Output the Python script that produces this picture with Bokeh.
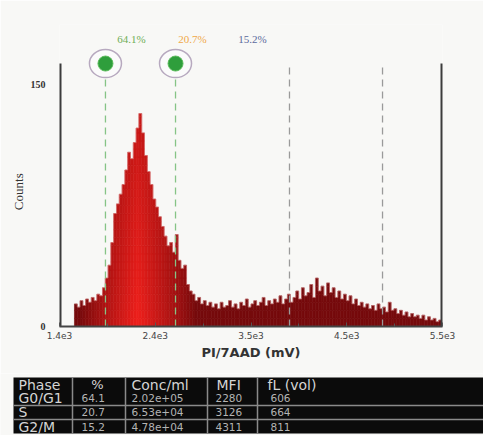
import numpy as np
from bokeh.plotting import figure
from bokeh.layouts import column
from bokeh.models import Range1d, FixedTicker, ColumnDataSource
from bokeh.core.properties import value
from bokeh.embed import file_html
from bokeh.resources import INLINE

# ---------------- data ----------------
BIN_START = 1560
BIN_WIDTH = 30
counts = [14, 12, 16, 13, 17, 15, 18, 16, 20, 19,
          24, 30, 38, 52, 70, 76, 82, 88, 97, 108,
          104, 114, 123, 132, 120, 106, 96, 88, 79, 74,
          68, 62, 56, 50, 52, 46, 57, 41, 36, 38,
          26, 22, 20, 16, 18, 14, 16, 13, 15, 12,
          14, 11, 15, 12, 13, 16, 12, 14, 11, 15,
          13, 17, 12, 14, 16, 13, 15, 18, 13, 16,
          14, 17, 15, 19, 14, 17, 20, 15, 18, 22,
          17, 24, 19, 21, 26, 18, 30, 22, 25, 19,
          27, 21, 24, 18, 22, 17, 20, 16, 19, 14,
          17, 13, 15, 12, 14, 11, 13, 10, 14, 11,
          12, 9, 15, 10, 11, 8, 10, 7, 9, 6,
          8, 6, 7, 5, 7, 4, 6, 4, 5, 3, 4]

X_START, X_END = 1400, 5500
x_ticks = [1400, 2425, 3450, 4475, 5500]
x_tick_labels = ["1.4e3", "2.4e3", "3.5e3", "4.5e3", "5.5e3"]
x_minor_ticks = [1912.5, 2937.5, 3962.5, 4987.5]
y_ticks = [0, 150]
y_tick_labels = ["0", "150"]
Y_AXIS_TOP = 163
Y_END = 187.2

gate_markers = [1892, 2642]
gate_lines = [3862, 4858]
phase_pct_labels = ["64.1%", "20.7%", "15.2%"]
phase_pct_colors = ["#6fae55", "#f0a848", "#5a6a9c"]

table_header = ["Phase", "%", "Conc/ml", "MFI", "fL (vol)"]
phases = ["G0/G1", "S", "G2/M"]
pct = ["64.1", "20.7", "15.2"]
conc = ["2.02e+05", "6.53e+04", "4.78e+04"]
mfi = ["2280", "3126", "4311"]
fl = ["606", "664", "811"]

# ---------------- layout / style ----------------
BG = "#f8f8f6"
PCT_LABEL_X = [2171, 2824, 3466]
PCT_LABEL_Y = 178
SEG = 5


def red_shade(x, y):
    h = np.clip(1 - abs(x - 2240) / 620.0, 0, 1)
    v = 1 - 0.35 * min(y / 140.0, 1)
    t = (h ** 0.9) * v
    dark = np.array([118, 10, 12])
    bright = np.array([240, 32, 28])
    c = dark + (bright - dark) * t
    return "#%02x%02x%02x" % tuple(int(v) for v in c)


lefts, rights, bottoms, tops, cols = [], [], [], [], []
for i, c in enumerate(counts):
    l = BIN_START + i * BIN_WIDTH
    r = l + BIN_WIDTH
    b = 0
    while b < c:
        tp = min(b + SEG, c)
        lefts.append(l); rights.append(r); bottoms.append(b); tops.append(tp)
        cols.append(red_shade(l + BIN_WIDTH / 2, (b + tp) / 2))
        b = tp

p = figure(width=483, height=373, x_range=Range1d(X_START, X_END), y_range=Range1d(0, Y_END),
           output_backend="svg", toolbar_location=None,
           min_border_left=59, min_border_right=41, min_border_top=24, min_border_bottom=47)
p.frame_align = False
p.background_fill_color = BG
p.border_fill_color = BG
p.outline_line_color = None
p.grid.visible = False

src = ColumnDataSource(dict(left=lefts, right=rights, bottom=bottoms, top=tops, color=cols))
p.quad(left="left", right="right", bottom="bottom", top="top", fill_color="color",
       line_color="color", line_width=0.6, source=src)

# pale bar tips
step_x = [BIN_START + i * BIN_WIDTH for i in range(len(counts))] + [BIN_START + len(counts) * BIN_WIDTH]
step_y = counts + [counts[-1]]
p.step(x=step_x, y=step_y, mode="after", line_color="#e09a9a", line_width=0.8, line_alpha=0.6)

# dashed gate lines
p.segment(x0=gate_markers, y0=[0, 0], x1=gate_markers, y1=[154, 154],
          line_color="#86c486", line_width=1.3, line_dash="7 5")
p.segment(x0=gate_lines, y0=[0, 0], x1=gate_lines, y1=[Y_AXIS_TOP, Y_AXIS_TOP],
          line_color="#9a9a9a", line_width=1.3, line_dash="7 5")

# left / right frame lines
p.segment(x0=[X_START, X_END], y0=[0, 0], x1=[X_START, X_END], y1=[Y_AXIS_TOP, Y_AXIS_TOP],
          line_color="#3c3c3c", line_width=4)

# gate markers
p.ellipse(x=gate_markers, y=[Y_AXIS_TOP] * 2, width=32, height=28,
          width_units="screen", height_units="screen",
          fill_color="#fbfbfb", line_color="#b7a9bf", line_width=1.5)
p.scatter(x=gate_markers, y=[Y_AXIS_TOP] * 2, size=15, fill_color="#2f9e3c",
          line_color="#5cbc5c", line_width=1)

# percentages
p.text(x=PCT_LABEL_X, y=[PCT_LABEL_Y] * 3, text=phase_pct_labels, text_color=phase_pct_colors,
       text_font=value("Liberation Serif"), text_font_size="11px",
       text_align="center", text_baseline="middle")

# axes
xa = p.xaxis[0]
xa.ticker = FixedTicker(ticks=x_ticks, minor_ticks=x_minor_ticks)
xa.major_label_overrides = {t: s for t, s in zip(x_ticks, x_tick_labels)}
xa.axis_line_color = "#444444"
xa.axis_line_width = 2
xa.major_tick_in = 4
xa.major_tick_out = 0
xa.minor_tick_in = 3
xa.minor_tick_out = 0
xa.major_tick_line_color = "#555555"
xa.minor_tick_line_color = "#555555"
xa.major_label_standoff = 5
xa.major_label_text_font = "DejaVu Sans"
xa.major_label_text_font_size = "9px"
xa.major_label_text_color = "#444444"
xa.axis_label = "PI/7AAD (mV)"
xa.axis_label_text_font = "DejaVu Sans"
xa.axis_label_text_font_size = "13px"
xa.axis_label_text_font_style = "bold"
xa.axis_label_text_color = "#333333"
xa.axis_label_standoff = 3

ya = p.yaxis[0]
ya.ticker = FixedTicker(ticks=y_ticks, minor_ticks=[])
ya.major_label_overrides = {t: s for t, s in zip(y_ticks, y_tick_labels)}
ya.axis_line_color = None
ya.major_tick_line_color = None
ya.minor_tick_line_color = None
ya.major_label_standoff = 8
ya.major_label_text_font = "Liberation Serif"
ya.major_label_text_font_size = "10px"
ya.major_label_text_font_style = "bold"
ya.major_label_text_color = "#333333"
ya.axis_label = "Counts" + "\u00a0" * 10
ya.axis_label_text_font = "Liberation Sans Narrow"
ya.axis_label_text_font_size = "13px"
ya.axis_label_text_font_style = "normal"
ya.axis_label_text_color = "#333333"
ya.axis_label_standoff = 2

# ---------------- table ----------------
t = figure(width=483, height=62, x_range=Range1d(0, 483), y_range=Range1d(62, 0),
           output_backend="svg", toolbar_location=None, min_border=0,
           min_border_left=0, min_border_right=0, min_border_top=0, min_border_bottom=0,
           x_axis_location=None, y_axis_location=None)
t.frame_align = False
t.background_fill_color = BG
t.border_fill_color = BG
t.outline_line_color = None
t.grid.visible = False

t.quad(left=13, right=484, top=4, bottom=60, fill_color="#0b0b0b", line_color=None)
COL_SEP = [72, 125, 207, 257]
t.segment(x0=COL_SEP, y0=[4] * 4, x1=COL_SEP, y1=[60] * 4, line_color="#8a8a8a", line_width=1.5)
ROW_SEP = [32, 46]
t.segment(x0=[13, 13], y0=ROW_SEP, x1=[484, 484], y1=ROW_SEP, line_color="#8a8a8a", line_width=1.5)

ROW_Y = [24, 38, 53]
HEAD_Y = 11
TXT = "#d4d4d4"
VAL = "#b4b4b4"
FONT = value("DejaVu Sans")
t.text(x=[18], y=[HEAD_Y], text=[table_header[0]], text_color=TXT, text_font=FONT,
       text_font_size="14px", text_baseline="middle", text_align="left")
t.text(x=[97], y=[HEAD_Y], text=[table_header[1]], text_color=TXT, text_font=FONT,
       text_font_size="13px", text_baseline="middle", text_align="center")
t.text(x=[131, 216, 267], y=[HEAD_Y] * 3, text=table_header[2:], text_color=TXT,
       text_font=FONT, text_font_size="14px", text_baseline="middle", text_align="left")
t.text(x=[18] * 3, y=ROW_Y, text=phases, text_color=TXT, text_font=FONT,
       text_font_size="14px", text_baseline="middle", text_align="left")
for xpos, vals in zip([81, 131, 215, 270], [pct, conc, mfi, fl]):
    t.text(x=[xpos] * 3, y=ROW_Y, text=vals, text_color=VAL, text_font=FONT,
           text_font_size="10.5px", text_baseline="middle", text_align="left")

layout = column(p, t, spacing=0)
open("out.html", "w").write(file_html(layout, INLINE))
